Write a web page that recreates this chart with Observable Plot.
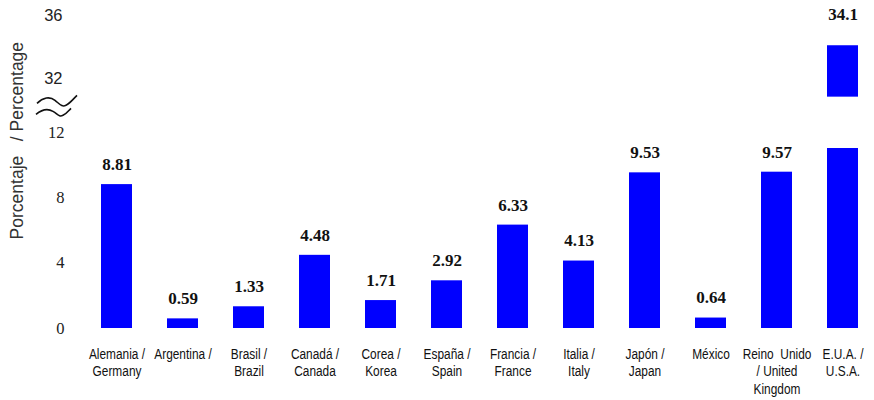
<!DOCTYPE html>
<html>
<head>
<meta charset="utf-8">
<script src="https://cdn.jsdelivr.net/npm/d3@7"></script>
<script src="https://cdn.jsdelivr.net/npm/@observablehq/plot@0.6"></script>
<style>
  body { margin: 0; background: #fff; }
  #chart svg { display: block; }
</style>
</head>
<body>
<div id="chart"></div>
<script>
// ---- Data ----
const categories = [
  "Alemania /\nGermany",
  "Argentina /",
  "Brasil /\nBrazil",
  "Canadá /\nCanada",
  "Corea /\nKorea",
  "España /\nSpain",
  "Francia /\nFrance",
  "Italia /\nItaly",
  "Japón /\nJapan",
  "México",
  "Reino\u00a0\u00a0Unido\n/ United\nKingdom",
  "E.U.A. /\nU.S.A."
];
const values = [8.81, 0.59, 1.33, 4.48, 1.71, 2.92, 6.33, 4.13, 9.53, 0.64, 9.57, 34.1];
const lowerTicks = [0, 4, 8, 12];
const upperTicks = [32, 36];
const yTitle = "Porcentaje\u00a0\u00a0\u00a0/ Percentage";

// broken axis: lower section 0–12, upper section 30–36
const breakDomain = [0, 12, 30, 36];
const cutLowerTop = 11.02;    // where the cut bar's lower piece ends
const cutUpperBottom = 30.87; // where the cut bar's upper piece starts

// ---- Build tables ----
const segments = [];
categories.forEach((c, i) => {
  const v = values[i];
  if (v > breakDomain[1]) {
    segments.push({c, y1: 0, y2: cutLowerTop});
    segments.push({c, y1: cutUpperBottom, y2: v});
  } else {
    segments.push({c, y1: 0, y2: v});
  }
});
const labels = categories.map((c, i) => ({c, v: values[i]}));
const lowLabels = labels.filter(d => d.v <= breakDomain[1]);
const highLabels = labels.filter(d => d.v > breakDomain[1]);

const serif = "'Liberation Serif', 'Times New Roman', Times, serif";
const sans = "'Liberation Sans', Arial, Helvetica, sans-serif";

const chart = Plot.plot({
  width: 874,
  height: 400,
  marginLeft: 91,
  marginRight: 5,
  marginTop: 15,
  marginBottom: 72,
  style: {fontFamily: sans, fontSize: "14px", color: "#111", background: "#fff"},
  x: {domain: categories, paddingInner: 0.53, paddingOuter: 0.1, label: null},
  y: {type: "linear", domain: breakDomain, range: [328, 132, 110.5, 15], axis: null},
  marks: [
    Plot.barY(segments, {x: "c", y1: "y1", y2: "y2", fill: "#0000ff"}),
    Plot.text(lowLabels, {
      x: "c", y: "v", text: d => String(d.v), dy: -20,
      fontFamily: serif, fontWeight: "bold", fontSize: 17, fill: "#111",
      ariaLabel: "value-labels"
    }),
    Plot.text(highLabels, {
      x: "c", y: "v", text: d => String(d.v), dy: -31,
      fontFamily: serif, fontWeight: "bold", fontSize: 17, fill: "#111",
      ariaLabel: "value-labels"
    }),
    Plot.axisX({tickSize: 0, tickPadding: 18, fontSize: 14.5, fontFamily: sans, lineHeight: 1.2, label: null, fill: "#111"}),
    Plot.text(lowerTicks, {
      y: d => d, text: d => String(d), frameAnchor: "left", dx: -27, textAnchor: "end",
      fontFamily: serif, fontSize: 16.5, fill: "#222"
    }),
    Plot.text(upperTicks, {
      y: d => d, text: d => String(d), frameAnchor: "left", dx: -29, textAnchor: "end",
      fontFamily: sans, fontSize: 16.5, fill: "#222", ariaLabel: "narrow-y"
    }),
    Plot.text([yTitle], {
      y: () => 11.5, text: d => d, frameAnchor: "left", dx: -74, rotate: -90, textAnchor: "middle",
      fontFamily: sans, fontSize: 17.5, fill: "#333"
    })
  ]
});

document.getElementById("chart").appendChild(chart);

// letter spacing for value labels
d3.select(chart).selectAll("g[aria-label='value-labels'] text").attr("letter-spacing", "1.6px");
// condensed (Arial Narrow–like) look for category labels and upper ticks
d3.select(chart).selectAll("g[aria-label='x-axis tick label'] text, g[aria-label='narrow-y'] text")
  .attr("transform", function() { return (this.getAttribute("transform") || "") + " scale(0.82,1)"; });

// axis-break symbol between the two y sections
const ys = chart.scale("y");
const ymid = (ys.apply(12) + ys.apply(32)) / 2;
const off = ymid - 106;
const brk = d3.select(chart).append("g")
  .attr("transform", `translate(0,${off})`)
  .attr("fill", "none").attr("stroke", "#111").attr("stroke-width", 1.6);
brk.append("path").attr("d", "M37,104 C43,98 50,97 55,101 S62,108 66,106 S73,100 77,96");
brk.append("path").attr("d", "M36,115 C42,110 48,109 53,112 S59,118 63,116 S68,112 71,109");
</script>
</body>
</html>
